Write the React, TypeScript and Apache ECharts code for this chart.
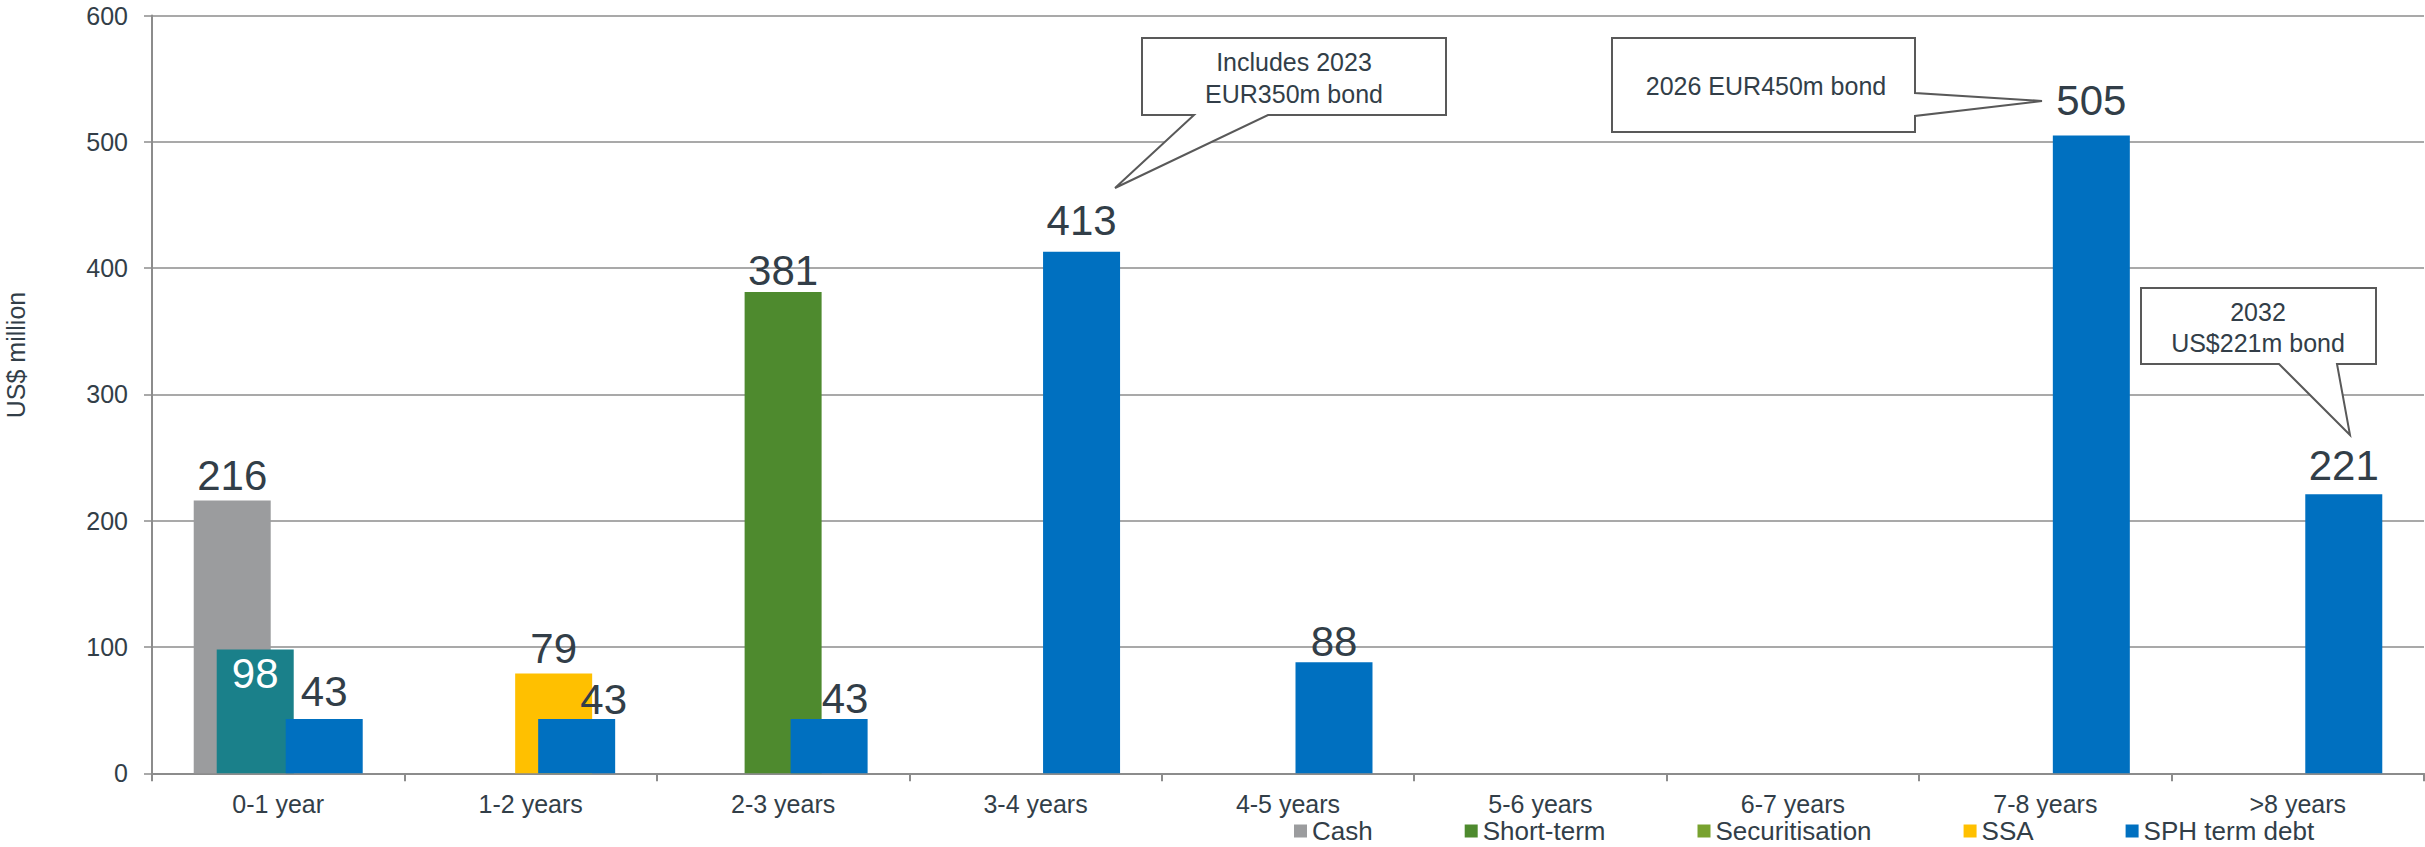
import React, { useEffect, useRef } from "react";
import * as echarts from "echarts";

const categories = ["0-1 year", "1-2 years", "2-3 years", "3-4 years", "4-5 years", "5-6 years", "6-7 years", "7-8 years", ">8 years"];
const cash = [216, null, null, null, null, null, null, null, null];
const shortTerm = [98, null, null, null, null, null, null, null, null];
const securitisation = [null, null, 381, null, null, null, null, null, null];
const ssa = [null, 79, null, null, null, null, null, null, null];
const sphTermDebt = [43, 43, 43, 413, 88, null, null, 505, 221];
const yMin = 0;
const yMax = 600;
const yInterval = 100;

const FONT = "'Liberation Sans', Arial, sans-serif";
const TEXT = "#323E48";
const GRID = "#8C8C8C";

// label nudges (index -> [dx, dy]) per series, to mirror the hand-placed labels
const sphLabelOffsets: Record<number, number[]> = { 0: [0, -2], 1: [27, 6], 2: [16, 5], 3: [0, -6], 4: [0, 4], 7: [0, -10], 8: [0, -4] };
const secLabelOffsets: Record<number, number[]> = { 2: [0, 3] };

function buildData(values: (number | null)[], offsets: Record<number, number[]> = {}, colors: Record<number, string> = {}) {
  return values.map((v, i) => {
    if (v === null) return null;
    const item: any = { value: v };
    if (offsets[i]) item.label = { offset: offsets[i] };
    if (colors[i]) item.itemStyle = { color: colors[i] };
    return item;
  });
}

function callout(points: number[][], lines: { text: string; x: number; y: number }[]) {
  return [
    {
      type: "polygon",
      shape: { points },
      style: { fill: "#ffffff", stroke: "#595959", lineWidth: 2 },
      z: 100,
    },
    ...lines.map((l) => ({
      type: "text",
      x: l.x,
      y: l.y,
      z: 101,
      style: {
        text: l.text,
        fill: TEXT,
        fontSize: 25,
        fontFamily: FONT,
        align: "center",
        verticalAlign: "middle",
        textAlign: "center",
        textVerticalAlign: "middle",
      },
    })),
  ];
}

export default function App() {
  const ref = useRef<HTMLDivElement>(null);
  useEffect(() => {
    document.body.style.margin = "0";
    const chart = echarts.init(ref.current!, null, { renderer: "svg" });
    const barBase = {
      type: "bar",
      barWidth: 77,
      barGap: "-70.13%",
      label: {
        show: true,
        position: "top",
        distance: 4,
        color: TEXT,
        fontSize: 42,
        fontFamily: FONT,
      },
    };
    chart.setOption({
      animation: false,
      backgroundColor: "#ffffff",
      textStyle: { fontFamily: FONT },
      grid: { left: 152, right: 1, top: 15.5, bottom: 73.7, containLabel: false },
      legend: {
        left: 1294,
        top: 818,
        padding: 0,
        itemWidth: 13,
        itemHeight: 13,
        itemGap: 92,
        icon: "rect",
        textStyle: { color: TEXT, fontSize: 26, fontFamily: FONT },
        data: ["Cash", "Short-term", "Securitisation", "SSA", "SPH term debt"],
      },
      xAxis: {
        type: "category",
        data: categories,
        axisLine: { show: true, lineStyle: { color: GRID, width: 2 } },
        axisTick: { show: true, length: 8, lineStyle: { color: GRID, width: 2 } },
        axisLabel: { interval: 0, margin: 18, color: TEXT, fontSize: 25, fontFamily: FONT },
      },
      yAxis: {
        type: "value",
        min: yMin,
        max: yMax,
        interval: yInterval,
        axisLine: { show: true, lineStyle: { color: GRID, width: 2 } },
        axisTick: { show: true, length: 8, lineStyle: { color: GRID, width: 1.5 } },
        axisLabel: { margin: 24, color: TEXT, fontSize: 25, fontFamily: FONT },
        splitLine: { show: true, lineStyle: { color: GRID, width: 1.5 } },
      },
      series: [
        { ...barBase, name: "Cash", itemStyle: { color: "#9B9C9E" }, data: buildData(cash) },
        {
          ...barBase,
          name: "Short-term",
          itemStyle: { color: "#4E8A2E" },
          label: { ...barBase.label, position: "insideTop", distance: 3, color: "#ffffff" },
          data: buildData(shortTerm, {}, { 0: "#1A808A" }),
        },
        {
          ...barBase,
          name: "Securitisation",
          itemStyle: { color: "#78A22F" },
          data: buildData(securitisation, secLabelOffsets, { 2: "#4E8A2E" }),
        },
        { ...barBase, name: "SSA", itemStyle: { color: "#FFC000" }, data: buildData(ssa) },
        { ...barBase, name: "SPH term debt", itemStyle: { color: "#0070C0" }, data: buildData(sphTermDebt, sphLabelOffsets) },
      ],
      graphic: [
        {
          type: "text",
          x: 16,
          y: 355,
          rotation: Math.PI / 2,
          style: {
            text: "US$ million",
            fill: TEXT,
            fontSize: 25,
            fontFamily: FONT,
            align: "center",
            verticalAlign: "middle",
            textAlign: "center",
            textVerticalAlign: "middle",
          },
        },
        ...callout(
          [[1142, 38], [1446, 38], [1446, 115], [1268, 115], [1115, 188], [1194, 115], [1142, 115]],
          [
            { text: "Includes 2023", x: 1294, y: 62 },
            { text: "EUR350m bond", x: 1294, y: 94 },
          ]
        ),
        ...callout(
          [[1612, 38], [1915, 38], [1915, 93], [2042, 101], [1915, 116], [1915, 132], [1612, 132]],
          [{ text: "2026 EUR450m bond", x: 1766, y: 86 }]
        ),
        ...callout(
          [[2141, 288], [2376, 288], [2376, 364], [2337, 364], [2350, 435], [2279, 364], [2141, 364]],
          [
            { text: "2032", x: 2258, y: 312 },
            { text: "US$221m bond", x: 2258, y: 343 },
          ]
        ),
      ],
    });
    return () => chart.dispose();
  }, []);
  return <div ref={ref} style={{ width: 2425, height: 847 }} />;
}
